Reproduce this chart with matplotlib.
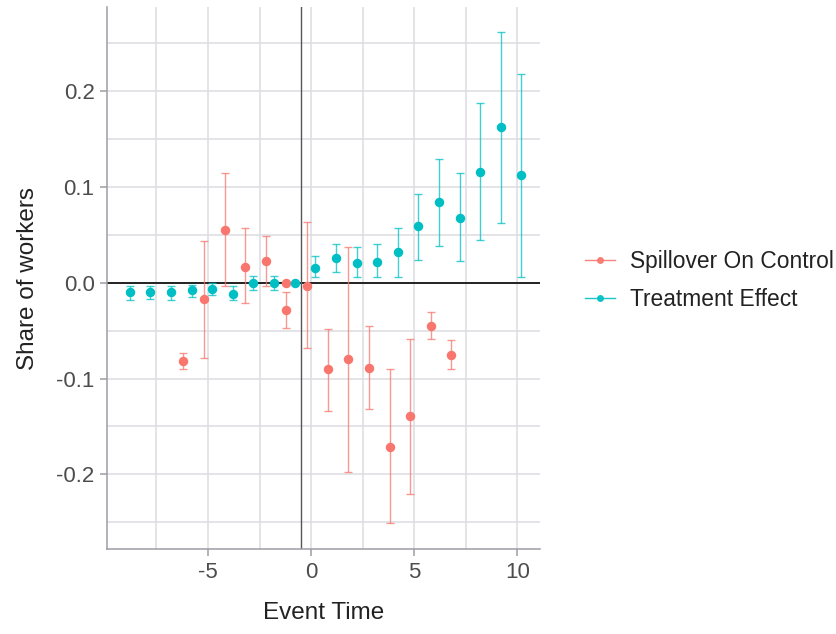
import numpy as np
import matplotlib
matplotlib.use("Agg")
import matplotlib.pyplot as plt
from matplotlib.ticker import FixedLocator, FuncFormatter

plt.rcParams['font.family'] = ['Liberation Sans', 'DejaVu Sans']

# spillover estimates on the control group (event time, point, 95% CI)
spill_t = [-6, -5, -4, -3, -2, -1, -1, 0, 1, 2, 3, 4, 5, 6, 7]
spill_est = [-0.0815, -0.0167, 0.0554, 0.017, 0.0223, 0.0, -0.028, -0.003,
             -0.090, -0.080, -0.0885, -0.171, -0.139, -0.045, -0.0752]
spill_lo = [-0.090, -0.079, -0.003, -0.021, -0.003, 0.0, -0.047, -0.068,
            -0.1338, -0.1975, -0.132, -0.251, -0.2208, -0.0585, -0.090]
spill_hi = [-0.0735, 0.044, 0.1146, 0.057, 0.049, 0.0, -0.0097, 0.063,
            -0.0484, 0.0373, -0.0449, -0.0899, -0.0585, -0.030, -0.060]

# treatment effect estimates
treat_t = list(range(-9, 11))
treat_est = [-0.010, -0.0097, -0.010, -0.008, -0.006, -0.0115, 0.0003, 0.0,
             0.0, 0.0153, 0.0258, 0.0206, 0.022, 0.032, 0.0588, 0.0839,
             0.0676, 0.116, 0.163, 0.1129]
treat_lo = [-0.018, -0.017, -0.018, -0.015, -0.0125, -0.018, -0.0073, -0.0073,
            0.0, 0.0056, 0.0108, 0.0056, 0.0056, 0.0056, 0.024, 0.0387,
            0.0223, 0.0442, 0.0624, 0.0056]
treat_hi = [-0.003, -0.003, -0.003, -0.002, 0.0003, -0.003, 0.0073, 0.0073,
            0.0, 0.0275, 0.0408, 0.0373, 0.0408, 0.0575, 0.0927, 0.129,
            0.1146, 0.1878, 0.262, 0.2184]

RED = '#F8766D'
TEAL = '#00BFC4'
GRID = '#DCDCE2'
SPINE = '#9C9CA6'


def draw_series(ax, t, est, lo, hi, color, shift, label):
    x = np.array(t) + shift
    est = np.array(est)
    yerr = [est - np.array(lo), np.array(hi) - est]
    ax.errorbar(x, est, yerr=yerr, fmt='none', ecolor=color, alpha=0.75,
                elinewidth=1.0, capsize=3, capthick=1.0, zorder=3)
    ax.plot(x, est, 'o', color=color, ms=5.8, zorder=4)
    # legend handle: line with a dot
    ax.plot([], [], '-o', color=color, ms=4, lw=1.0, alpha=0.9, label=label)


fig = plt.figure(figsize=(8.36, 6.34), dpi=100)
ax = fig.add_axes([0.128, 0.134, 0.518, 0.855])

ax.set_xlim(-9.9, 11.1)
ax.set_ylim(-0.278, 0.288)

ax.xaxis.set_major_locator(FixedLocator([-5, 0, 5, 10]))
ax.xaxis.set_minor_locator(FixedLocator([-7.5, -2.5, 2.5, 7.5]))
ax.yaxis.set_major_locator(FixedLocator([-0.2, -0.1, 0.0, 0.1, 0.2]))
ax.yaxis.set_minor_locator(FixedLocator([-0.25, -0.15, -0.05, 0.05, 0.15, 0.25]))
ax.yaxis.set_major_formatter(FuncFormatter(lambda v, p: f"{v:.1f}".replace('\u2212', '-')))
ax.xaxis.set_major_formatter(FuncFormatter(lambda v, p: f"{v:.0f}"))

ax.grid(True, which='both', color=GRID, lw=1.1, zorder=0)
ax.set_axisbelow(True)

for side in ['top', 'right']:
    ax.spines[side].set_visible(False)
for side in ['left', 'bottom']:
    ax.spines[side].set_color(SPINE)
    ax.spines[side].set_linewidth(1.1)

ax.tick_params(which='major', length=5, width=1.1, color=SPINE,
               labelsize=16, labelcolor='#4D4D4D', pad=4)
ax.tick_params(which='minor', length=0)

ax.axhline(0, color='#222222', lw=1.4, zorder=2)
ax.axvline(-0.5, color='#555555', lw=1.0, zorder=2)

draw_series(ax, spill_t, spill_est, spill_lo, spill_hi, RED, -0.2,
            'Spillover On Control')
draw_series(ax, treat_t, treat_est, treat_lo, treat_hi, TEAL, 0.2,
            'Treatment Effect')

ax.set_xlabel('Event Time', fontsize=17.5, color='#222222', labelpad=14)
ax.set_ylabel('Share of workers', fontsize=17.5, color='#222222', labelpad=12)

leg = ax.legend(loc='center left', bbox_to_anchor=(1.083, 0.495), frameon=False,
                fontsize=16.4, handlelength=1.3, handletextpad=0.65,
                labelspacing=0.68, labelcolor='#222222', borderaxespad=0)

fig.savefig('out.png', dpi=100)
